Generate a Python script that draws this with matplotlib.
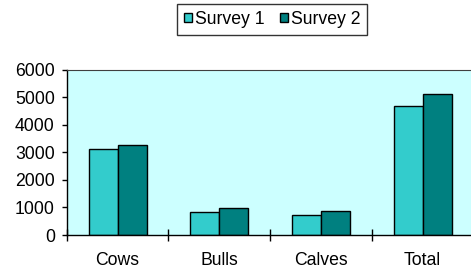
import numpy as np
import matplotlib.pyplot as plt
from matplotlib.patches import Patch

categories = ['Cows', 'Bulls', 'Calves', 'Total']
survey_1 = [3110, 850, 725, 4690]
survey_2 = [3255, 995, 870, 5120]
series_names = ['Survey 1', 'Survey 2']
y_ticks = [0, 1000, 2000, 3000, 4000, 5000, 6000]

COLORS = ['#33CCCC', '#008080']
plt.rcParams['font.family'] = ['Liberation Sans', 'DejaVu Sans']
plt.rcParams['font.size'] = 12.7

fig = plt.figure(figsize=(4.71, 2.70), dpi=100)
ax = fig.add_axes([66.7 / 471, 1 - 235 / 270, 406.7 / 471, 165.3 / 270])
ax.set_facecolor('#CCFFFF')

x = np.arange(len(categories))
w = 0.285
ax.bar(x - w / 2, survey_1, w, color=COLORS[0], edgecolor='black', linewidth=1)
ax.bar(x + w / 2, survey_2, w, color=COLORS[1], edgecolor='black', linewidth=1)

ax.set_xlim(-0.5, len(categories) - 0.5)
ax.set_ylim(0, 6000)
ax.set_yticks(y_ticks)
ax.tick_params(axis='y', direction='out', length=3.6, width=1, pad=5, colors='black')

# category boundaries as major ticks, labels on minor ticks
ax.set_xticks(np.arange(len(categories) + 1) - 0.5)
ax.set_xticklabels([])
ax.set_xticks(x, minor=True)
ax.set_xticklabels(categories, minor=True)
ax.tick_params(axis='x', which='major', direction='inout', length=8.4, width=1)
ax.tick_params(axis='x', which='minor', length=0, pad=12)

ax.spines['right'].set_visible(False)
ax.spines['top'].set_color('#404040')
for s in ['left', 'bottom']:
    ax.spines[s].set_color('black')
    ax.spines[s].set_linewidth(1)

handles = [Patch(facecolor=c, edgecolor='black', linewidth=1) for c in COLORS]
leg = fig.legend(handles, series_names, loc='center', bbox_to_anchor=(272 / 471, 1 - 19.5 / 270),
                 ncol=2, frameon=True, fancybox=False, shadow=False,
                 handlelength=0.45, handleheight=0.45, handletextpad=0.15,
                 columnspacing=0.9, borderpad=0.4, borderaxespad=0)
leg.get_frame().set_edgecolor('black')
leg.get_frame().set_linewidth(1)

fig.savefig('out.png', dpi=100)
